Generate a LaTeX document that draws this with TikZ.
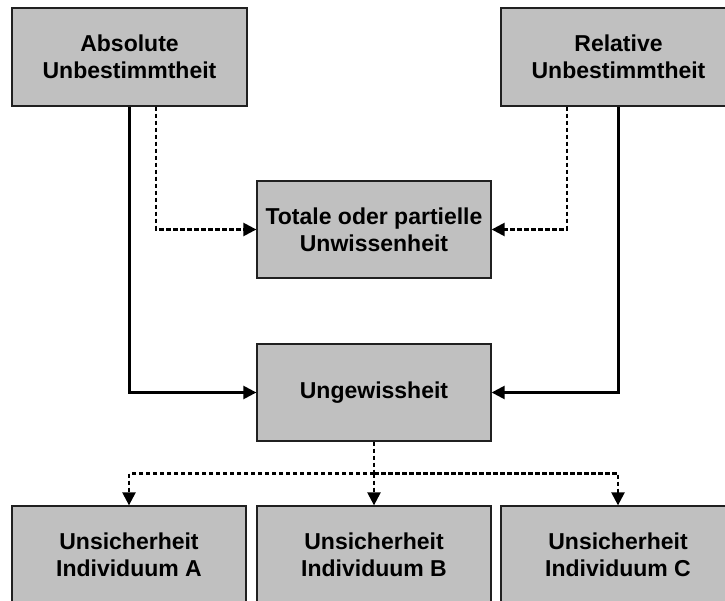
\documentclass[tikz,border=0pt]{standalone}
\usepackage{fontspec}
\setmainfont{Liberation Sans}
\usetikzlibrary{arrows.meta}
\definecolor{boxgray}{HTML}{C0C0C0}
\definecolor{boxline}{HTML}{202020}
\begin{document}
\begin{tikzpicture}[x=1pt,y=-1pt,
  box/.style={draw=boxline, line width=1.3pt, fill=boxgray,
    minimum width=234pt, minimum height=97pt, inner sep=0pt,
    align=center, font=\fontsize{23}{27}\selectfont\bfseries},
  link/.style={line width=2.4pt, line join=miter, -{Triangle[length=13pt,width=13pt]}},
  dlink/.style={link, dash pattern=on 4.5pt off 2.5pt},
  dline/.style={line width=2.4pt, dash pattern=on 4.5pt off 2.5pt},
]
\clip (0,0) rectangle (725,601);

% boxes
\node[box, minimum width=235pt, minimum height=98pt] (abs) at (129.5,57) {Absolute\\Unbestimmtheit};
\node[box, minimum width=235pt, minimum height=98pt] (rel) at (618.5,57) {Relative\\Unbestimmtheit};
\node[box] (tot) at (374,229.5) {Totale oder partielle\\Unwissenheit};
\node[box] (ung) at (374,392.5) {Ungewissheit};
\node[box] (ua) at (129,554.5) {Unsicherheit\\Individuum A};
\node[box] (ub) at (374,554.5) {Unsicherheit\\Individuum B};
\node[box] (uc) at (618,554.5) {Unsicherheit\\Individuum C};

% solid links to Ungewissheit
\draw[link] (abs.south) |- (ung.west);
\draw[link] (rel.south) |- (ung.east);

% dashed links to Unwissenheit
\draw[dlink] ([xshift=26.5pt]abs.south) |- (tot.west);
\draw[dlink] ([xshift=-51.5pt]rel.south) |- (tot.east);

% dashed split to the individuals
\draw[dline] (ung.south) -- ++(0,32) coordinate (split);
\draw[dlink] (split) -| (ua.north);
\draw[dlink] (split) -- (ub.north);
\draw[dlink] (split) -| (uc.north);
\end{tikzpicture}
\end{document}
